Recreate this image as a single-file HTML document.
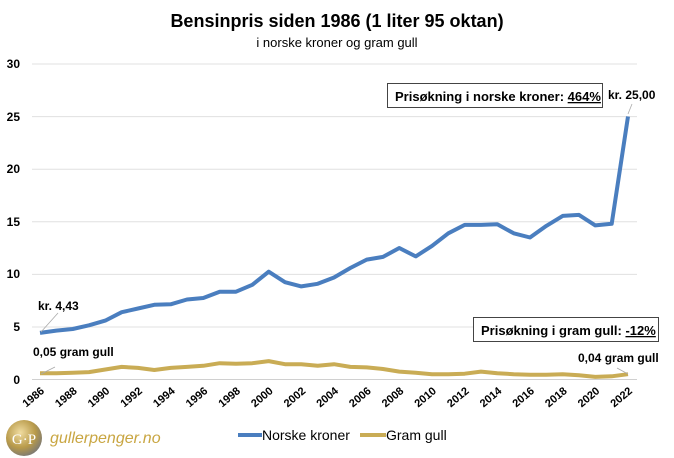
<!DOCTYPE html>
<html><head><meta charset="utf-8"><style>
body{margin:0;background:#fff;}
svg{display:block;font-family:"Liberation Sans",sans-serif;}
</style></head><body>
<svg width="674" height="458" viewBox="0 0 674 458">
<text x="337" y="27" text-anchor="middle" font-size="18" font-weight="bold" fill="#000">Bensinpris siden 1986 (1 liter 95 oktan)</text>
<text x="337" y="47" text-anchor="middle" font-size="13" fill="#000">i norske kroner og gram gull</text>
<g stroke="#e0e0e0" stroke-width="1">
<line x1="32" x2="637" y1="64" y2="64"/><line x1="32" x2="637" y1="116.6" y2="116.6"/><line x1="32" x2="637" y1="169.2" y2="169.2"/><line x1="32" x2="637" y1="221.8" y2="221.8"/><line x1="32" x2="637" y1="274.4" y2="274.4"/><line x1="32" x2="637" y1="327" y2="327"/><line x1="32" x2="637" y1="379.5" y2="379.5" stroke="#d0d0d0"/>
</g>
<g font-size="12" font-weight="bold" text-anchor="end" fill="#000">
<text x="20" y="68">30</text><text x="20" y="121">25</text><text x="20" y="173">20</text><text x="20" y="226">15</text><text x="20" y="278">10</text><text x="20" y="331">5</text><text x="20" y="384">0</text>
</g>
<g font-size="11" font-weight="bold" text-anchor="end" fill="#000" id="xl"></g>
<polyline id="blue" fill="none" stroke="#4a7ebf" stroke-width="4" stroke-linejoin="round"/>
<polyline id="gold" fill="none" stroke="#c9ac55" stroke-width="4" stroke-linejoin="round"/>
<line x1="41" y1="332" x2="58" y2="313" stroke="#aaa" stroke-width="0.8"/>
<line x1="628" y1="114" x2="632" y2="104" stroke="#aaa" stroke-width="0.8"/>
<line x1="41" y1="374" x2="55" y2="367" stroke="#aaa" stroke-width="0.8"/>
<line x1="628" y1="374" x2="617" y2="368" stroke="#aaa" stroke-width="0.8"/>
<text x="38" y="310" font-size="12" font-weight="bold">kr. 4,43</text>
<text x="33" y="356" font-size="12" font-weight="bold">0,05  gram gull</text>
<text x="608" y="99" font-size="12" font-weight="bold">kr. 25,00</text>
<text x="578" y="362" font-size="12" font-weight="bold">0,04 gram gull</text>
<rect x="387.5" y="83.5" width="215" height="24" fill="#fff" stroke="#444"/>
<text x="395" y="101" font-size="13" font-weight="bold">Prisøkning i norske kroner: <tspan text-decoration="underline">464%</tspan></text>
<rect x="473.5" y="317.5" width="185" height="24" fill="#fff" stroke="#444"/>
<text x="481" y="335" font-size="13" font-weight="bold">Prisøkning i gram gull: <tspan text-decoration="underline">-12%</tspan></text>
<line x1="238" y1="435" x2="262" y2="435" stroke="#4a7ebf" stroke-width="4"/>
<text x="262" y="440" font-size="14">Norske kroner</text>
<line x1="360" y1="435" x2="386" y2="435" stroke="#c9ac55" stroke-width="4"/>
<text x="386" y="440" font-size="14">Gram gull</text>
<defs><radialGradient id="g" cx="0.4" cy="0.35" r="0.7"><stop offset="0" stop-color="#f0dca0"/><stop offset="0.6" stop-color="#b89a4a"/><stop offset="1" stop-color="#777"/></radialGradient></defs>
<circle cx="24" cy="438" r="18" fill="url(#g)"/>
<text x="24" y="444" text-anchor="middle" font-family="Liberation Serif,serif" font-size="15" fill="#fff">G·P</text>
<text x="50" y="443" font-size="16" font-style="italic" fill="#c9a642">gullerpenger.no</text>
</svg>
<script>
var b=[4.43,4.65,4.8,5.15,5.6,6.4,6.75,7.1,7.15,7.6,7.75,8.35,8.35,9.0,10.25,9.25,8.85,9.1,9.7,10.6,11.4,11.65,12.5,11.7,12.7,13.9,14.7,14.7,14.75,13.9,13.5,14.6,15.55,15.65,14.65,14.8,25.0];
var g=[0.6,0.6,0.65,0.7,0.95,1.2,1.1,0.9,1.1,1.2,1.3,1.55,1.5,1.55,1.75,1.45,1.45,1.3,1.45,1.2,1.15,1.0,0.75,0.65,0.5,0.5,0.55,0.75,0.6,0.5,0.45,0.45,0.5,0.4,0.25,0.3,0.5];
function X(i){return 40+i*588/36}function Y(v){return 379.5-v*10.52}
function P(a){return a.map(function(v,i){return X(i).toFixed(1)+","+Y(v).toFixed(1)}).join(" ")}
document.getElementById("blue").setAttribute("points",P(b));
document.getElementById("gold").setAttribute("points",P(g));
var xl=document.getElementById("xl"),s="";
for(var y=1986;y<=2022;y+=2){var x=X(y-1986)+5,yy=392;s+='<text transform="translate('+x+','+yy+') rotate(-40)">'+y+'</text>';}
xl.innerHTML=s;
</script>
</body></html>
